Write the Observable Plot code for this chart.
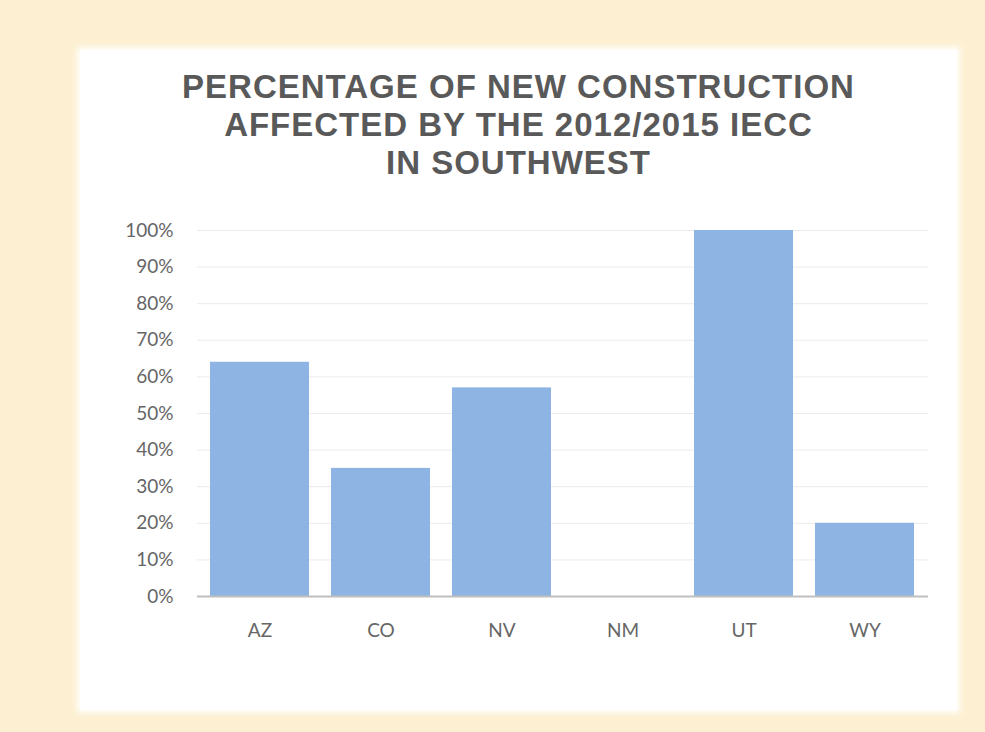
<!DOCTYPE html>
<html>
<head>
<meta charset="utf-8">
<script src="https://cdn.jsdelivr.net/npm/d3@7"></script>
<script src="https://cdn.jsdelivr.net/npm/@observablehq/plot@0.6"></script>
<style>
  html, body { margin: 0; padding: 0; }
  body { width: 985px; height: 732px; background: #fdf0d2; position: relative; overflow: hidden; }
  #panel { position: absolute; left: 80px; top: 50px; width: 877px; height: 660px; background: #ffffff;
           box-shadow: 0 0 6px 3px rgba(255,255,255,0.9); }
  #title { position: absolute; left: 0; top: 18px; width: 877px; text-align: center;
           font-family: "Liberation Sans", Arial, sans-serif; font-weight: bold; font-size: 33px;
           line-height: 38px; letter-spacing: 1px; color: #595959; }
  #chart { position: absolute; left: 0; top: 145px; }
</style>
</head>
<body>
<div id="panel">
  <div id="title">PERCENTAGE OF NEW CONSTRUCTION<br>AFFECTED BY THE 2012/2015 IECC<br>IN SOUTHWEST</div>
  <div id="chart"></div>
</div>
<script>
const states = ["AZ", "CO", "NV", "NM", "UT", "WY"];
const values = [0.64, 0.35, 0.57, 0, 1.00, 0.20];
const yTicks = [0, 0.1, 0.2, 0.3, 0.4, 0.5, 0.6, 0.7, 0.8, 0.9, 1.0];

const data = states.map((s, i) => ({state: s, value: values[i]}));

const chart = Plot.plot({
  width: 877,
  height: 470,
  marginLeft: 117,
  marginRight: 29,
  marginTop: 35,
  marginBottom: 69,
  style: {fontFamily: "Lato, sans-serif", fontSize: "19px", color: "#666666", background: "transparent"},
  x: {domain: states, paddingInner: 0.18, paddingOuter: 0.09, label: null},
  y: {domain: [0, 1], label: null},
  marks: [
    Plot.ruleY(yTicks.filter(d => d > 0), {stroke: "#ebebeb", strokeWidth: 1}),
    Plot.barY(data, {x: "state", y: "value", fill: "#8db4e2"}),
    Plot.ruleY([0], {stroke: "#bfbfbf", strokeWidth: 2}),
    Plot.axisY({ticks: yTicks, tickFormat: d3.format(".0%"), tickSize: 0, tickPadding: 24, label: null, fill: "#666666"}),
    Plot.axisX({tickSize: 0, tickPadding: 27, label: null, fill: "#666666"})
  ]
});
document.getElementById("chart").appendChild(chart);
</script>
</body>
</html>
